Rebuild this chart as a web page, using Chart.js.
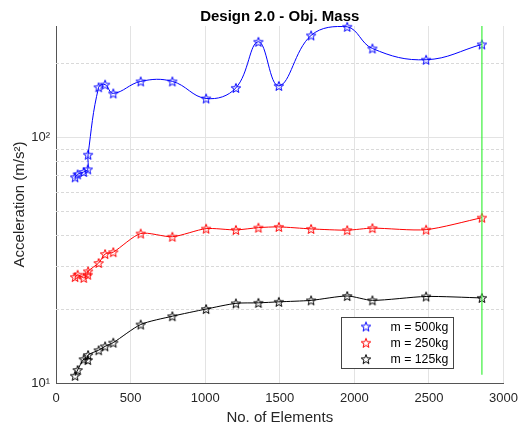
<!DOCTYPE html>
<html>
<head>
<meta charset="UTF-8">
<title>Design 2.0 - Obj. Mass</title>
<script src="https://cdn.jsdelivr.net/npm/chart.js"></script>
<style>
    html, body { margin: 0; padding: 0; background: #fff; }
    #wrap { width: 526px; height: 430px; }
</style>
</head>
<body>
<div id="wrap"><canvas id="chart" width="526" height="430"></canvas></div>
<script>
    const FONT = 'Arial, "Liberation Sans", Helvetica, sans-serif';

    // No. of elements (shared by all three mass cases)
    const elements = [128, 145, 186, 213, 215, 286, 329, 384, 568, 780, 1006, 1206, 1357, 1494, 1710, 1952, 2121, 2481, 2855];
    const acc500 = [68.8, 70.7, 72.3, 74.1, 85, 160, 164, 151, 169, 169, 144, 159, 245, 162, 260, 282, 230, 207, 239];
    const acc250 = [27.0, 27.6, 26.8, 27.6, 28.5, 30.8, 33.5, 34.1, 40.6, 39.4, 42.5, 42.0, 42.9, 43.2, 42.4, 41.9, 42.7, 42.1, 47.1];
    const acc125 = [10.7, 11.3, 12.5, 12.4, 13.0, 13.6, 14.1, 14.6, 17.3, 18.7, 20.0, 21.1, 21.2, 21.4, 21.7, 22.6, 21.7, 22.5, 22.2];
    const seriesLabels = ['m = 500kg', 'm = 250kg', 'm = 125kg'];

    // chosen mesh marker (green vertical line)
    const chosenX = [2855, 2855];
    const chosenY = [10.8, 284];

    const xTicks = [0, 500, 1000, 1500, 2000, 2500, 3000];
    const yMajor = [10, 100];
    const yMinor = [20, 30, 40, 50, 60, 70, 80, 90, 200];
    const yMajorLabels = ['10\u00b9', '10\u00b2'];

    // pentagram marker like matlab 'p'
    function makeStar(color) {
        const c = document.createElement('canvas');
        c.width = 12; c.height = 12;
        const g = c.getContext('2d');
        g.strokeStyle = color;
        g.lineWidth = 1;
        g.beginPath();
        for (let i = 0; i < 10; i++) {
            const r = i % 2 === 0 ? 5 : 2.1;
            const a = -Math.PI / 2 + i * Math.PI / 5;
            const px = 6 + r * Math.cos(a), py = 6.5 + r * Math.sin(a);
            if (i === 0) g.moveTo(px, py); else g.lineTo(px, py);
        }
        g.closePath();
        g.stroke();
        return c;
    }

    const colors = ['#0000ff', '#ff0000', '#000000'];
    const stars = colors.map(makeStar);
    const allSeries = [acc500, acc250, acc125];

    const toPoints = (xs, ys) => xs.map((x, i) => ({ x: x, y: ys[i] }));

    const datasets = [{
        label: 'chosen',
        data: toPoints(chosenX, chosenY),
        borderColor: 'rgb(60,240,60)',
        borderWidth: 1.2,
        pointRadius: 0,
        tension: 0,
        order: 0
    }];
    allSeries.forEach((s, i) => {
        datasets.push({
            label: seriesLabels[i],
            data: toPoints(elements, s),
            borderColor: colors[i],
            borderWidth: 1,
            pointStyle: stars[i],
            pointRadius: 5,
            tension: i === 0 ? 0.4 : 0.25,
            clip: false,
            order: 1
        });
    });

    // dashed minor grid, title and in-axes legend
    const extras = {
        id: 'extras',
        beforeDatasetsDraw(chart) {
            const { ctx, chartArea: a, scales: { y } } = chart;
            ctx.save();
            ctx.strokeStyle = '#d9d9d9';
            ctx.lineWidth = 1;
            ctx.setLineDash([3, 2]);
            yMinor.forEach(v => {
                const py = Math.round(y.getPixelForValue(v)) + 0.5;
                ctx.beginPath();
                ctx.moveTo(a.left, py);
                ctx.lineTo(a.right, py);
                ctx.stroke();
            });
            ctx.restore();
        },
        afterDraw(chart) {
            const { ctx, chartArea: a } = chart;
            ctx.save();
            ctx.fillStyle = '#000';
            ctx.font = 'bold 15px ' + FONT;
            ctx.textAlign = 'center';
            ctx.textBaseline = 'middle';
            ctx.fillText('Design 2.0 - Obj. Mass', (a.left + a.right) / 2, 17);

            // legend box
            const bx = 341.5, by = 317.5, bw = 112, bh = 51;
            ctx.fillStyle = '#fff';
            ctx.fillRect(bx, by, bw, bh);
            ctx.strokeStyle = '#444';
            ctx.lineWidth = 1;
            ctx.strokeRect(bx, by, bw, bh);
            ctx.font = '12.3px ' + FONT;
            ctx.textAlign = 'left';
            ctx.fillStyle = '#000';
            seriesLabels.forEach((t, i) => {
                const ry = 327 + i * 16.3;
                ctx.drawImage(stars[i], 366 - 6, ry - 6.5);
                ctx.fillText(t, 390.5, ry + 0.5);
            });
            ctx.restore();
        }
    };

    new Chart(document.getElementById('chart'), {
        type: 'line',
        data: { datasets: datasets },
        options: {
            responsive: false,
            animation: false,
            events: [],
            layout: { padding: { top: 26, right: 20, left: 0, bottom: 0 } },
            plugins: {
                legend: { display: false },
                title: { display: false },
                tooltip: { enabled: false }
            },
            scales: {
                x: {
                    type: 'linear',
                    min: 0,
                    max: 3000,
                    afterBuildTicks: s => { s.ticks = xTicks.map(v => ({ value: v })); },
                    afterFit: s => { s.height = 47; },
                    grid: { color: '#e3e3e3', drawTicks: false },
                    border: { color: '#555', width: 1 },
                    ticks: {
                        color: '#262626',
                        font: { family: FONT, size: 13 },
                        padding: 8,
                        maxRotation: 0,
                        callback: v => String(v)
                    },
                    title: {
                        display: true,
                        text: 'No. of Elements',
                        color: '#262626',
                        font: { family: FONT, size: 15 },
                        padding: { top: 0, bottom: 3 }
                    }
                },
                y: {
                    type: 'logarithmic',
                    min: 10,
                    max: 284,
                    afterBuildTicks: s => { s.ticks = yMajor.map(v => ({ value: v, major: true })); },
                    afterFit: s => { s.width = 56; },
                    grid: { color: '#e3e3e3', drawTicks: false },
                    border: { color: '#555', width: 1 },
                    ticks: {
                        color: '#262626',
                        font: { family: FONT, size: 13 },
                        padding: 6,
                        callback: v => yMajorLabels[yMajor.indexOf(v)]
                    },
                    title: {
                        display: true,
                        text: 'Acceleration (m/s\u00b2)',
                        color: '#262626',
                        font: { family: FONT, size: 15 },
                        padding: { top: 11, bottom: 0 }
                    }
                }
            }
        },
        plugins: [extras]
    });
</script>
</body>
</html>
